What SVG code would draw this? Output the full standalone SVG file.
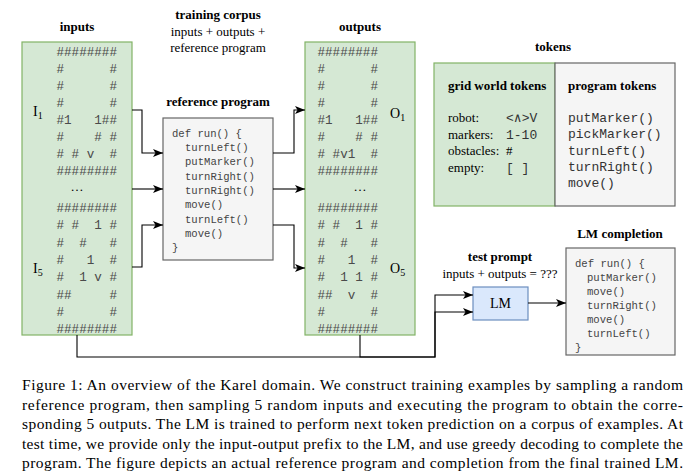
<svg xmlns="http://www.w3.org/2000/svg" width="700" height="471" viewBox="0 0 700 471">
<style>
.t{font-family:"Liberation Serif","Times New Roman",serif;font-size:13px;fill:#000}
.b{font-weight:bold}
.m{font-family:"Liberation Mono","Courier New",monospace}
.g{font-size:12.6px;fill:#4a4a4a}
.c{font-size:10.6px;fill:#444}
.k{font-size:13px;fill:#333}
.cap{font-family:"Liberation Serif","Times New Roman",serif;font-size:15.5px;fill:#000}
.green{fill:#d5e8d4;stroke:#82b366;stroke-width:1.2}
.gray{fill:#f5f5f5;stroke:#666;stroke-width:1.2}
.blue{fill:#dae8fc;stroke:#6c8ebf;stroke-width:1.2}
.ln{fill:none;stroke:#000;stroke-width:1.1}
</style>
<defs>
<marker id="arr" viewBox="0 0 10 8" refX="10" refY="4" markerWidth="10" markerHeight="8" markerUnits="userSpaceOnUse" orient="auto"><path d="M0,0 L10,4 L0,8 L2.5,4 z" fill="#000"/></marker>
</defs>
<rect width="700" height="471" fill="#fff"/>

<g id="titles">
<text class="t b" x="77" y="31" text-anchor="middle">inputs</text>
<text class="t b" x="360" y="31" text-anchor="middle">outputs</text>
<text class="t b" x="218" y="19" text-anchor="middle">training corpus</text>
<text class="t" x="218" y="36" text-anchor="middle">inputs + outputs +</text>
<text class="t" x="218" y="52" text-anchor="middle">reference program</text>
</g>

<g id="inputs">
<rect class="green" x="22" y="42" width="110" height="293"/>
<text class="t" x="33" y="116" style="font-size:14px">I<tspan font-size="10" dy="3">1</tspan></text>
<text class="t" x="33" y="273" style="font-size:14px">I<tspan font-size="10" dy="3">5</tspan></text>
<g class="m g">
<text x="56.5" y="56">########</text>
<text x="56.5" y="73">#&#160;&#160;&#160;&#160;&#160;&#160;#</text>
<text x="56.5" y="90">#&#160;&#160;&#160;&#160;&#160;&#160;#</text>
<text x="56.5" y="107">#&#160;&#160;&#160;&#160;&#160;&#160;#</text>
<text x="56.5" y="124">#1&#160;&#160;&#160;1##</text>
<text x="56.5" y="141">#&#160;&#160;&#160;&#160;#&#160;#</text>
<text x="56.5" y="158">#&#160;#&#160;v&#160;&#160;#</text>
<text x="56.5" y="175">########</text>
<text x="56.5" y="212">########</text>
<text x="56.5" y="229.3">#&#160;#&#160;&#160;1&#160;#</text>
<text x="56.5" y="246.6">#&#160;&#160;#&#160;&#160;&#160;#</text>
<text x="56.5" y="263.9">#&#160;&#160;&#160;1&#160;&#160;#</text>
<text x="56.5" y="281.2">#&#160;&#160;1&#160;v&#160;#</text>
<text x="56.5" y="298.5">##&#160;&#160;&#160;&#160;&#160;#</text>
<text x="56.5" y="315.8">#&#160;&#160;&#160;&#160;&#160;&#160;#</text>
<text x="56.5" y="333">########</text>
</g>
<text class="t" x="77" y="191" text-anchor="middle" fill="#444">…</text>
</g>

<g id="outputs">
<rect class="green" x="305" y="42" width="110" height="293"/>
<text class="t" x="390" y="118" style="font-size:14px">O<tspan font-size="10" dy="3">1</tspan></text>
<text class="t" x="390" y="273" style="font-size:14px">O<tspan font-size="10" dy="3">5</tspan></text>
<g class="m g">
<text x="317.5" y="56">########</text>
<text x="317.5" y="73">#&#160;&#160;&#160;&#160;&#160;&#160;#</text>
<text x="317.5" y="90">#&#160;&#160;&#160;&#160;&#160;&#160;#</text>
<text x="317.5" y="107">#&#160;&#160;&#160;&#160;&#160;&#160;#</text>
<text x="317.5" y="124">#1&#160;&#160;&#160;1##</text>
<text x="317.5" y="141">#&#160;&#160;&#160;&#160;#&#160;#</text>
<text x="317.5" y="158">#&#160;#v1&#160;&#160;#</text>
<text x="317.5" y="175">########</text>
<text x="317.5" y="212">########</text>
<text x="317.5" y="229.3">#&#160;#&#160;&#160;1&#160;#</text>
<text x="317.5" y="246.6">#&#160;&#160;#&#160;&#160;&#160;#</text>
<text x="317.5" y="263.9">#&#160;&#160;&#160;1&#160;&#160;#</text>
<text x="317.5" y="281.2">#&#160;&#160;1&#160;1&#160;#</text>
<text x="317.5" y="298.5">##&#160;&#160;v&#160;&#160;#</text>
<text x="317.5" y="315.8">#&#160;&#160;&#160;&#160;&#160;&#160;#</text>
<text x="317.5" y="333">########</text>
</g>
<text class="t" x="360" y="191" text-anchor="middle" fill="#444">…</text>
</g>

<g id="reference-program">
<text class="t b" x="218" y="106" text-anchor="middle">reference program</text>
<rect class="gray" x="163" y="118" width="110" height="142"/>
<g class="m c">
<text x="172" y="137">def run() {</text>
<text x="185" y="151">turnLeft()</text>
<text x="185" y="165.3">putMarker()</text>
<text x="185" y="179.6">turnRight()</text>
<text x="185" y="193.9">turnRight()</text>
<text x="185" y="208.2">move()</text>
<text x="185" y="222.5">turnLeft()</text>
<text x="185" y="236.8">move()</text>
<text x="172" y="251">}</text>
</g>
</g>

<g id="tokens">
<text class="t b" x="553" y="51" text-anchor="middle">tokens</text>
<rect class="green" x="434" y="63" width="121" height="143"/>
<rect class="gray" x="555" y="63" width="120" height="143"/>
<text class="t b" x="448" y="90">grid world tokens</text>
<text class="t b" x="568" y="90">program tokens</text>
<text class="t" x="448" y="122">robot:</text>
<text class="t" x="448" y="138.5">markers:</text>
<text class="t" x="448" y="155">obstacles:</text>
<text class="t" x="448" y="171.5">empty:</text>
<text class="m k" x="506" y="122">&lt;∧&gt;V</text>
<text class="m k" x="506" y="138.5">1-10</text>
<text class="t" x="506" y="155">#</text>
<text class="m k" x="506" y="171.5">[&#160;]</text>
<g class="m k">
<text x="568" y="122">putMarker()</text>
<text x="568" y="138.3">pickMarker()</text>
<text x="568" y="154.6">turnLeft()</text>
<text x="568" y="170.9">turnRight()</text>
<text x="568" y="187.2">move()</text>
</g>
</g>

<g id="test-prompt">
<text class="t b" x="500" y="261" text-anchor="middle">test prompt</text>
<text class="t" x="500" y="278" text-anchor="middle">inputs + outputs = ???</text>
</g>

<g id="lm">
<rect class="blue" x="473" y="287" width="55" height="33"/>
<text class="t" x="500.5" y="308" text-anchor="middle" style="font-size:14px">LM</text>
</g>

<g id="lm-completion">
<text class="t b" x="620" y="238" text-anchor="middle">LM completion</text>
<rect class="gray" x="566" y="248" width="109" height="107"/>
<g class="m c">
<text x="575" y="267">def run() {</text>
<text x="587" y="281">putMarker()</text>
<text x="587" y="295">move()</text>
<text x="587" y="309">turnRight()</text>
<text x="587" y="323">move()</text>
<text x="587" y="337">turnLeft()</text>
<text x="575" y="351">}</text>
</g>
</g>

<g id="connectors">
<path class="ln" d="M132,110 H142 V153 H163" marker-end="url(#arr)"/>
<path class="ln" d="M132,189 H163" marker-end="url(#arr)"/>
<path class="ln" d="M132,267 H142 V225 H163" marker-end="url(#arr)"/>
<path class="ln" d="M273,153 H294 V110 H305" marker-end="url(#arr)"/>
<path class="ln" d="M273,189 H305" marker-end="url(#arr)"/>
<path class="ln" d="M273,225 H294 V268 H305" marker-end="url(#arr)"/>
<path class="ln" d="M77,335 V357 H435 V295 H473" marker-end="url(#arr)"/>
<path class="ln" d="M360,335 V357 H435 V312 H473" marker-end="url(#arr)"/>
<path class="ln" d="M528,303 H566" marker-end="url(#arr)"/>
</g>

<g id="caption" class="cap">
<text x="22" y="390" textLength="661" lengthAdjust="spacing">Figure 1: An overview of the Karel domain. We construct training examples by sampling a random</text>
<text x="22" y="409.5" textLength="661" lengthAdjust="spacing">reference program, then sampling 5 random inputs and executing the program to obtain the corre-</text>
<text x="22" y="429" textLength="661" lengthAdjust="spacing">sponding 5 outputs. The LM is trained to perform next token prediction on a corpus of examples. At</text>
<text x="22" y="448.5" textLength="661" lengthAdjust="spacing">test time, we provide only the input-output prefix to the LM, and use greedy decoding to complete the</text>
<text x="22" y="468" textLength="661" lengthAdjust="spacing">program. The figure depicts an actual reference program and completion from the final trained LM.</text>
</g>
</svg>
